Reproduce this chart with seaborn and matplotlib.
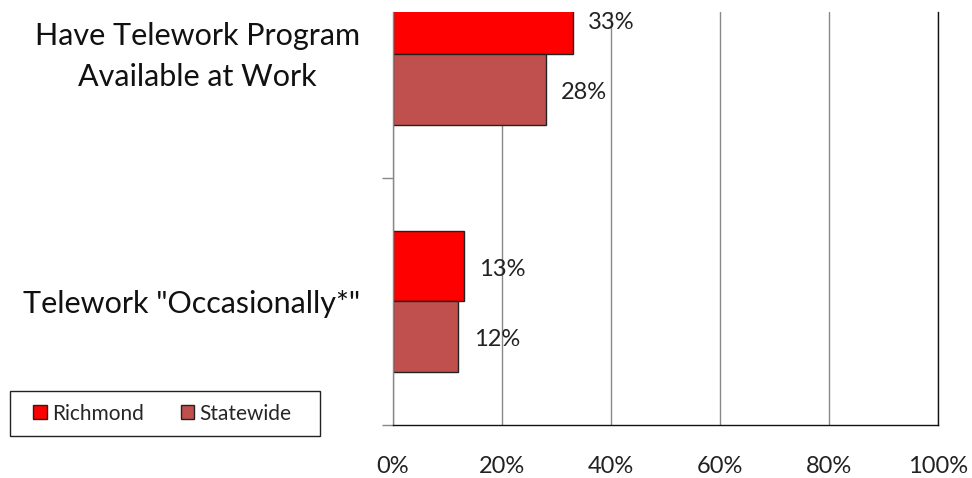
import matplotlib
matplotlib.use("Agg")
import matplotlib.pyplot as plt
import matplotlib.transforms as mtransforms
import seaborn as sns
import pandas as pd
from matplotlib.patches import Patch, Rectangle

categories = ["Have Telework Program\nAvailable at Work", "Telework \"Occasionally*\""]
series = ["Richmond", "Statewide"]
richmond = [33, 13]
statewide = [28, 12]
colors = ["#FF0000", "#C0504D"]
xticks = [0, 20, 40, 60, 80, 100]

rows = []
for name, vals in zip(series, [richmond, statewide]):
    for cat, v in zip(categories, vals):
        rows.append({"category": cat, "series": name, "value": v})
df = pd.DataFrame(rows)

sns.set_style("white")
plt.rcParams["font.family"] = ["Lato", "DejaVu Sans"]

fig = plt.figure(figsize=(9.72, 4.78), dpi=100)
ax = fig.add_axes([393 / 972, 1 - 425 / 478, (938 - 393) / 972, (425 - 12) / 478])

sns.barplot(data=df, y="category", x="value", hue="series", order=categories,
            hue_order=series, palette=colors, orient="h", width=0.571,
            edgecolor="#222222", linewidth=1, saturation=1, ax=ax, legend=False)

ax.set_xlim(0, 100)
ax.set_ylim(1.5, -0.172)
ax.set_xticks(xticks)
ax.set_xticklabels([f"{t}%" for t in xticks], fontsize=17, color="#222222")
ax.tick_params(axis="x", length=0, pad=22)
ax.set_yticks([0.5, 1.5], minor=True)
ax.set_yticks([0, 1])
ax.set_yticklabels(categories, fontsize=22, color="#111111", ha="right",
                   multialignment="center", linespacing=1.58)
ax.tick_params(axis="y", which="major", length=0, pad=24)
ax.tick_params(axis="y", which="minor", length=8, width=1, color="#888888", direction="out", left=True)
ax.set_xlabel("")
ax.set_ylabel("")

# lift the two-line category label slightly
first = ax.get_yticklabels()[0]
first.set_transform(first.get_transform() + mtransforms.ScaledTranslation(0, 0.07, fig.dpi_scale_trans))

ax.xaxis.grid(True, color="#888888", linewidth=1)
ax.set_axisbelow(True)
ax.spines["top"].set_visible(False)
ax.spines["left"].set_color("#888888")
ax.spines["bottom"].set_color("#111111")
ax.spines["right"].set_color("#111111")
for s in ["left", "bottom", "right"]:
    ax.spines[s].set_linewidth(1)

# value labels to the right of each bar
for container in ax.containers:
    for bar in container:
        w = bar.get_width()
        ax.annotate(f"{w:.0f}%", (w, bar.get_y() + bar.get_height() / 2),
                    xytext=(11, -2), textcoords="offset points", ha="left", va="center",
                    fontsize=17, color="#222222")

# legend box in figure pixels
fig.patches.append(Rectangle((10 / 972, 1 - 436 / 478), 310 / 972, 45 / 478,
                             transform=fig.transFigure, facecolor="white",
                             edgecolor="#222222", linewidth=1, zorder=0))
handles = [Patch(facecolor=c, edgecolor="#222222", label=s) for c, s in zip(colors, series)]
leg = fig.legend(handles=handles, loc="center left",
                 bbox_to_anchor=(33 / 972, 1 - 413.5 / 478),
                 ncol=2, frameon=False, fontsize=15, handlelength=0.67, handleheight=0.67,
                 columnspacing=1.75, handletextpad=0.25, borderpad=0, borderaxespad=0)

fig.savefig("out.png", dpi=100)
